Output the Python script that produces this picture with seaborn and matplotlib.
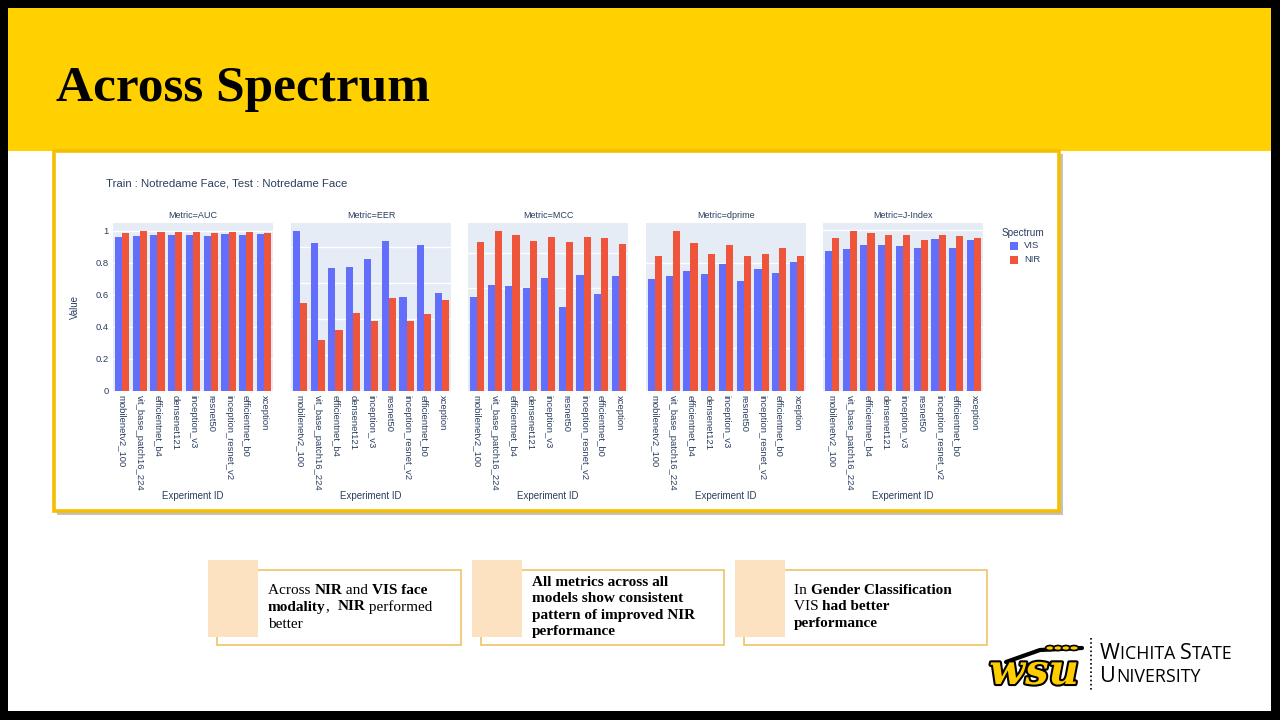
import numpy as np
import pandas as pd
import matplotlib
matplotlib.use("Agg")
import matplotlib.pyplot as plt
import seaborn as sns
from matplotlib.patches import Rectangle, Ellipse
from matplotlib.ticker import MultipleLocator, FuncFormatter
import matplotlib.patheffects as pe

# ---------------- data ----------------
models = ["mobilenetv2_100", "vit_base_patch16_224", "efficientnet_b4", "densenet121",
          "inception_v3", "resnet50", "inception_resnet_v2", "efficientnet_b0", "xception"]
metrics = ["AUC", "EER", "MCC", "dprime", "J-Index"]
spectra = ["VIS", "NIR"]

auc_vis = [0.964, 0.971, 0.975, 0.973, 0.977, 0.967, 0.981, 0.973, 0.981]
auc_nir = [0.990, 0.998, 0.996, 0.992, 0.996, 0.990, 0.996, 0.996, 0.987]
eer_vis = [0.222, 0.206, 0.171, 0.173, 0.183, 0.208, 0.131, 0.203, 0.136]
eer_nir = [0.122, 0.071, 0.085, 0.108, 0.097, 0.129, 0.097, 0.107, 0.126]
mcc_vis = [0.544, 0.616, 0.608, 0.597, 0.655, 0.488, 0.674, 0.560, 0.666]
mcc_nir = [0.862, 0.926, 0.907, 0.872, 0.895, 0.864, 0.895, 0.885, 0.854]
dprime_vis = [2.62, 2.70, 2.80, 2.75, 2.97, 2.57, 2.86, 2.76, 3.03]
dprime_nir = [3.17, 3.74, 3.46, 3.22, 3.42, 3.16, 3.21, 3.36, 3.15]
jidx_vis = [0.868, 0.883, 0.908, 0.908, 0.900, 0.889, 0.944, 0.887, 0.941]
jidx_nir = [0.950, 0.992, 0.981, 0.967, 0.971, 0.941, 0.971, 0.962, 0.950]

values = {
    "AUC": (auc_vis, auc_nir),
    "EER": (eer_vis, eer_nir),
    "MCC": (mcc_vis, mcc_nir),
    "dprime": (dprime_vis, dprime_nir),
    "J-Index": (jidx_vis, jidx_nir),
}
grid_steps = {"AUC": 0.2, "EER": 0.05, "MCC": 0.2, "dprime": 1.0, "J-Index": 0.2}

rows = []
for m in metrics:
    for s, vals in zip(spectra, values[m]):
        for mod, v in zip(models, vals):
            rows.append({"Metric": m, "Spectrum": s, "Experiment ID": mod, "Value": v})
df = pd.DataFrame(rows)

# ---------------- style ----------------
sns.set_theme(style="white")
plt.rcParams["font.family"] = ["Liberation Sans", "DejaVu Sans"]

VIS_C = "#636EFA"
NIR_C = "#EF553B"
TXT = "#2a3f5f"
PLOT_BG = "#E5ECF6"
W, H = 1280, 720

fig = plt.figure(figsize=(12.8, 7.2), dpi=100)
fig.patch.set_facecolor("black")

# background axes in pixel coordinates
bg = fig.add_axes([0, 0, 1, 1])
bg.set_xlim(0, W)
bg.set_ylim(H, 0)
bg.axis("off")

# slide
bg.add_patch(Rectangle((8, 8), 1263, 703, facecolor="white", edgecolor="none", zorder=0))
bg.add_patch(Rectangle((8, 8), 1263, 143, facecolor="#FFD100", edgecolor="none", zorder=1))
bg.text(56, 89, "Across Spectrum", fontsize=37, fontweight="bold",
        family=["Liberation Serif", "DejaVu Serif"], color="black", va="center", ha="left", zorder=3)

# chart frame
bg.add_patch(Rectangle((57, 154), 1006, 361, facecolor="#9a9a9a", edgecolor="none", zorder=1, alpha=0.6))
bg.add_patch(Rectangle((54, 151), 1005, 360, facecolor="white", edgecolor="#F5BE00", lw=2.6, zorder=2))

bg.text(106, 184, "Train : Notredame Face, Test : Notredame Face", fontsize=8.2,
        color=TXT, va="center", ha="left", zorder=3)


def px_axes(x0, y0, x1, y1):
    return fig.add_axes([x0 / W, 1 - y1 / H, (x1 - x0) / W, (y1 - y0) / H])


panel_x = [113, 291, 468, 646, 823]
panel_top, panel_bot = 223, 391
pal = {"VIS": VIS_C, "NIR": NIR_C}

for i, m in enumerate(metrics):
    ax = px_axes(panel_x[i], panel_top, panel_x[i] + 160, panel_bot)
    sub = df[df["Metric"] == m]
    sns.barplot(data=sub, x="Experiment ID", y="Value", hue="Spectrum", order=models,
                hue_order=spectra, palette=pal, width=0.8, saturation=1, ax=ax,
                legend=False, linewidth=0, errorbar=None)
    ax.set_facecolor(PLOT_BG)
    for sp in ax.spines.values():
        sp.set_visible(False)
    vmax = sub["Value"].max()
    ax.set_ylim(0, vmax * 1.052)
    ax.set_xlim(-0.5, len(models) - 0.5)
    ax.yaxis.set_major_locator(MultipleLocator(grid_steps[m]))
    ax.grid(axis="y", color="white", lw=1.0)
    ax.grid(axis="x", visible=False)
    ax.set_axisbelow(True)
    ax.tick_params(axis="both", length=0, colors=TXT, labelsize=6.8)
    ax.tick_params(axis="x", pad=3)
    ax.tick_params(axis="y", pad=3)
    for lbl in ax.get_xticklabels():
        lbl.set_rotation(-90)
        lbl.set_va("top")
        lbl.set_ha("center")
        lbl.set_color(TXT)
    if i == 0:
        ax.yaxis.set_major_formatter(FuncFormatter(lambda v, p: f"{v:g}"))
        ax.set_ylabel("Value", fontsize=7, color=TXT)
        ax.yaxis.set_label_coords(-(113 - 80) / 160, 0.5)
    else:
        ax.set_yticklabels([])
        ax.set_ylabel("")
    ax.set_xlabel("Experiment ID", fontsize=7, color=TXT)
    ax.xaxis.set_label_coords(0.5, -(491 - 391) / 168)
    ax.text(0.5, 1 + 7 / 168, f"Metric={m}", transform=ax.transAxes, ha="center",
            va="center", fontsize=6.5, color=TXT)

# legend (plotly-style)
bg.text(1002, 233, "Spectrum", fontsize=7.2, color=TXT, va="center", ha="left", zorder=5)
for k, (s, c) in enumerate(zip(spectra, [VIS_C, NIR_C])):
    yy = 246 + k * 14
    bg.add_patch(Rectangle((1010, yy - 4), 8, 8, facecolor=c, edgecolor="none", zorder=5))
    bg.text(1024, yy, s, fontsize=6.8, color=TXT, va="center", ha="left", zorder=5)

# ---------------- text boxes ----------------
renderer = fig.canvas.get_renderer()
SERIF = ["Liberation Serif", "DejaVu Serif"]


def draw_runs(x, y, runs, size=11, family=SERIF, color="black"):
    cx = x
    for text, bold in runs:
        t = bg.text(cx, y, text, fontsize=size, fontweight="bold" if bold else "normal",
                    family=family, color=color, va="center", ha="left", zorder=5)
        bb = t.get_window_extent(renderer=renderer)
        cx += bb.width


def box(xp, xr0, xr1, lines, tx, ys):
    bg.add_patch(Rectangle((xr0, 570), xr1 - xr0, 75, facecolor="white",
                           edgecolor="#EBC05A", lw=1.1, zorder=3))
    bg.add_patch(Rectangle((xp, 560), 50, 77, facecolor="#FDE2C2", edgecolor="none", zorder=4))
    for runs, y in zip(lines, ys):
        draw_runs(tx, y, runs)


box(208, 217, 461,
    [[("Across ", False), ("NIR", True), (" and ", False), ("VIS face", True)],
     [("modality", True), (",  ", False), ("NIR", True), (" performed", False)],
     [("better", False)]],
    268, [590, 607, 624])
box(472, 481, 724,
    [[("All metrics across all", True)],
     [("models show consistent", True)],
     [("pattern of improved NIR", True)],
     [("performance", True)]],
    532, [582, 598, 615, 632])
box(735, 744, 987,
    [[("In ", False), ("Gender Classification", True)],
     [("VIS ", False), ("had better", True)],
     [("performance", True)]],
    794, [590, 607, 623])

# ---------------- logo ----------------
bg.text(1034, 672, "wsu", fontsize=30, fontweight="bold", style="italic",
        family=["DejaVu Serif"], color="#FFCD00", ha="center", va="center", zorder=6,
        path_effects=[pe.withStroke(linewidth=3, foreground="black")])
for k in range(4):
    bg.add_patch(Ellipse((1050 + k * 8, 648), 9, 5, facecolor="#FFCD00",
                         edgecolor="black", lw=1.2, zorder=6))
bg.plot([1006, 1040, 1082], [662, 650, 648], color="black", lw=3, zorder=5,
        solid_capstyle="round")
bg.plot([1091, 1091], [638, 690], color="black", lw=1.2, ls=(0, (1, 1.5)), zorder=5)

SANS = ["Open Sans", "DejaVu Sans"]


def draw_caps(x, y, runs):
    cx = x
    for text, size in runs:
        t = bg.text(cx, y, text, fontsize=size, family=SANS, color="black",
                    va="baseline", ha="left", zorder=6)
        cx += t.get_window_extent(renderer=renderer).width


draw_caps(1100, 659, [("W", 15.5), ("ICHITA ", 12.8), ("S", 15.5), ("TATE", 12.8)])
draw_caps(1100, 682, [("U", 15.5), ("NIVERSITY", 12.8)])

fig.savefig("out.png", dpi=100, facecolor=fig.get_facecolor())
